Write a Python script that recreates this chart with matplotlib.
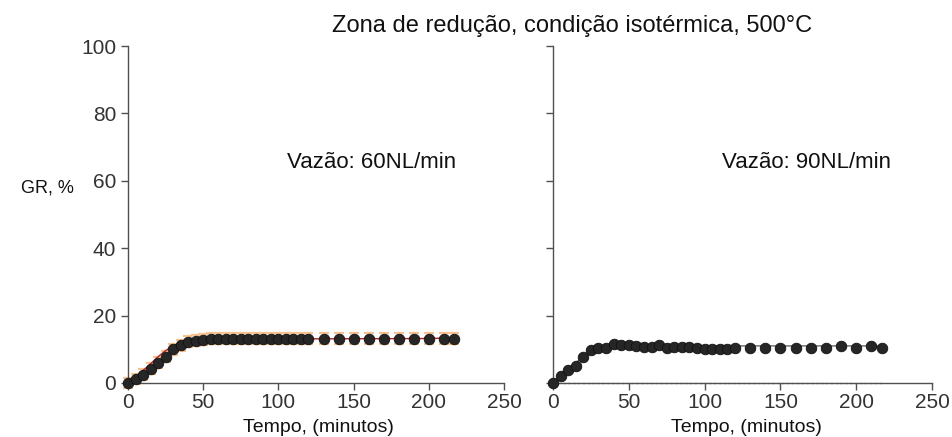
import matplotlib
matplotlib.use("Agg")
import matplotlib.pyplot as plt
import numpy as np

plt.rcParams['font.family'] = ['Liberation Sans', 'DejaVu Sans']

# ---- data ----
time_min = [0, 5, 10, 15, 20, 25, 30, 35, 40, 45, 50, 55, 60, 65, 70, 75, 80, 85, 90,
            95, 100, 105, 110, 115, 120, 130, 140, 150, 160, 170, 180, 190, 200, 210, 217]

gr_60 = [0, 1.2, 2.5, 4.3, 6.0, 7.8, 10.0, 11.2, 12.2, 12.6, 12.9, 13.1, 13.1, 13.1, 13.1,
         13.1, 13.1, 13.1, 13.1, 13.1, 13.1, 13.1, 13.1, 13.1, 13.1, 13.1, 13.1, 13.1, 13.1,
         13.1, 13.1, 13.1, 13.1, 13.1, 13.1]
err_60 = 1.6

gr_90 = [0, 2.2, 3.9, 4.9, 7.7, 9.9, 10.4, 10.4, 11.5, 11.2, 11.2, 10.9, 10.7, 10.7, 11.2,
         10.4, 10.6, 10.7, 10.7, 10.4, 10.1, 10.1, 10.1, 10.1, 10.4, 10.4, 10.4, 10.4, 10.4,
         10.4, 10.4, 10.9, 10.4, 10.9, 10.4]

fit_t_60 = [0, 5, 10, 15, 20, 25, 30, 35, 40, 45, 50, 60, 80, 120, 200, 217]
fit_60 = [0, 1.8, 3.7, 5.7, 7.8, 9.6, 11.0, 12.0, 12.6, 12.9, 13.0, 13.1, 13.1, 13.1, 13.2, 13.4]

fit_t_90 = [0, 5, 10, 15, 20, 25, 30, 35, 40, 217]
fit_90 = [0, 2.1, 4.1, 6.0, 7.8, 9.4, 10.4, 10.9, 11.0, 11.0]

baseline_t = [0, 217]
baseline_90 = [0, 0]

x_ticks = [0, 50, 100, 150, 200, 250]
y_ticks = [0, 20, 40, 60, 80, 100]

title = "Zona de redução, condição isotérmica, 500°C"
xlabel = "Tempo, (minutos)"
ylabel = "GR, %"
label_60 = "Vazão: 60NL/min"
label_90 = "Vazão: 90NL/min"

# ---- figure ----
W, H = 952, 437
fig = plt.figure(figsize=(W / 100, H / 100), dpi=100)

def px_axes(x0, x1, y_top, y_bot):
    return fig.add_axes([x0 / W, 1 - y_bot / H, (x1 - x0) / W, (y_bot - y_top) / H])

ax1 = px_axes(128, 504, 46, 383)
ax2 = px_axes(553, 932, 46, 383)

spine_col = '#505050'
tick_col = '#333333'
for ax in (ax1, ax2):
    ax.set_xlim(0, 250)
    ax.set_ylim(0, 100)
    ax.set_xticks(x_ticks)
    ax.set_yticks(y_ticks)
    for s in ('top', 'right'):
        ax.spines[s].set_visible(False)
    for s in ('left', 'bottom'):
        ax.spines[s].set_color(spine_col)
        ax.spines[s].set_linewidth(1.0)
    ax.tick_params(axis='both', direction='out', length=5, width=1.0,
                   color=spine_col, labelcolor=tick_col, labelsize=15)
    ax.tick_params(axis='x', pad=2)
    ax.set_facecolor('none')

ax2.tick_params(axis='y', labelleft=False)

ms = 7.6
# left panel
ax1.errorbar(time_min, gr_60, yerr=err_60, fmt='none', ecolor='#f6c290',
             elinewidth=1.0, capsize=3.8, capthick=1.6, zorder=2, clip_on=False)
ax1.plot(fit_t_60, fit_60, color='#b22222', lw=1.0, zorder=3, clip_on=False)
ax1.plot(time_min, gr_60, 'o', color='#262626', mec='#111111', mew=0.6,
         ms=ms, zorder=4, clip_on=False)

# right panel
ax2.plot(baseline_t, baseline_90, color='#9a9a9a', lw=1.0, ls=(0, (2, 1.5)),
         zorder=2, clip_on=False)
ax2.plot(fit_t_90, fit_90, color='#555555', lw=0.9, zorder=3, clip_on=False)
ax2.plot(time_min, gr_90, 'o', color='#262626', mec='#111111', mew=0.6,
         ms=ms, zorder=4, clip_on=False)

# texts
fig.text(572 / W, 1 - 26 / H, title, ha='center', va='center', fontsize=17, color='#111111')
fig.text(318 / W, 1 - 427 / H, xlabel, ha='center', va='center', fontsize=14, color='#111111')
fig.text(746 / W, 1 - 427 / H, xlabel, ha='center', va='center', fontsize=14, color='#111111')
fig.text(47 / W, 1 - 188 / H, ylabel, ha='center', va='center', fontsize=13,
         color='#111111')
fig.text(287 / W, 1 - 163 / H, label_60, ha='left', va='center', fontsize=16,
         color='#111111')
fig.text(722 / W, 1 - 163 / H, label_90, ha='left', va='center', fontsize=16,
         color='#111111')

fig.savefig('out.png', dpi=100)
